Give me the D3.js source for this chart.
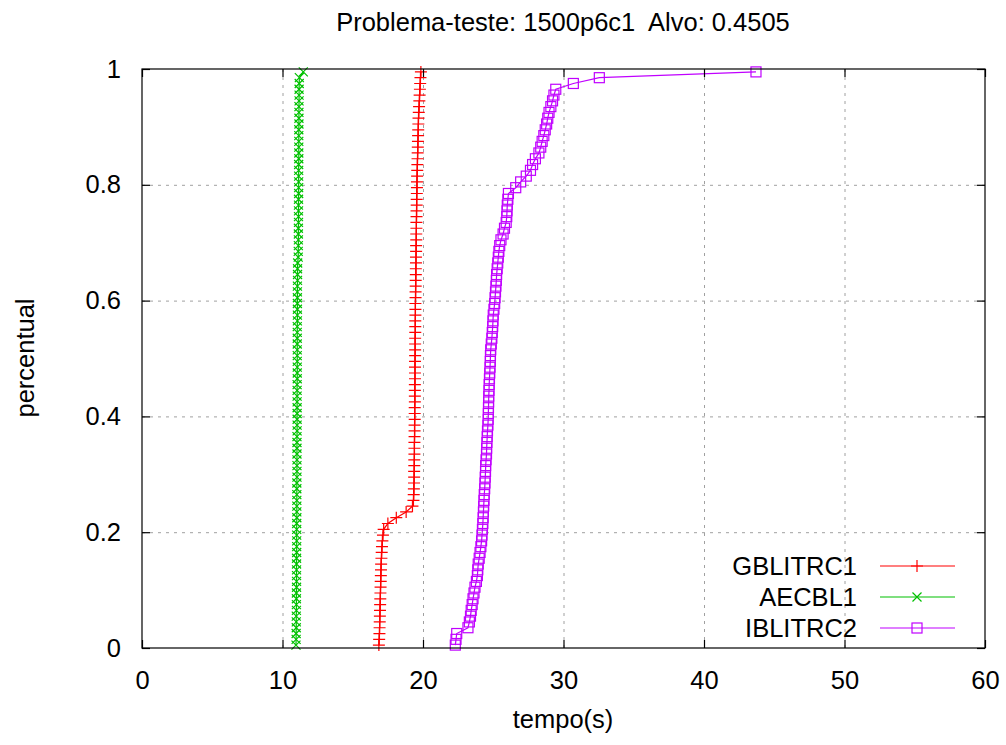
<!DOCTYPE html>
<html>
<head>
<meta charset="utf-8">
<script src="https://cdn.jsdelivr.net/npm/d3@7"></script>
<style>
  body { margin: 0; background: #fff; }
  svg text { font-family: "Liberation Sans", Arial, sans-serif; fill: #000; white-space: pre; }
</style>
</head>
<body>
<script>
(function() {

  // tempo (s) of each run, sorted; 100 runs per algorithm
  let gblitrc1 = [16.86,16.88,16.9,16.91,16.92,16.93,16.94,16.95,16.96,16.97,
    16.98,16.99,17.0,17.01,17.02,17.04,17.06,17.08,17.11,17.15,
    17.2,17.5,18.1,18.8,19.25,19.32,19.34,19.35,19.36,19.37,
    19.37,19.38,19.38,19.39,19.39,19.39,19.4,19.4,19.4,19.41,
    19.41,19.41,19.42,19.42,19.42,19.42,19.43,19.43,19.43,19.43,
    19.44,19.44,19.44,19.44,19.45,19.45,19.45,19.46,19.46,19.46,
    19.47,19.47,19.48,19.48,19.49,19.49,19.5,19.5,19.51,19.51,
    19.52,19.52,19.53,19.53,19.54,19.54,19.55,19.55,19.56,19.57,
    19.57,19.58,19.59,19.6,19.61,19.62,19.63,19.64,19.65,19.66,
    19.67,19.68,19.7,19.72,19.74,19.76,19.78,19.8,19.82,19.85];

  let aecbl1 = [10.96,10.97,10.97,10.98,10.98,10.98,10.99,10.99,10.99,10.99,
    11.0,11.0,11.0,11.0,11.0,11.0,11.01,11.01,11.01,11.01,
    11.01,11.01,11.02,11.02,11.02,11.02,11.02,11.02,11.02,11.03,
    11.03,11.03,11.03,11.03,11.03,11.03,11.03,11.04,11.04,11.04,
    11.04,11.04,11.04,11.04,11.04,11.04,11.05,11.05,11.05,11.05,
    11.05,11.05,11.05,11.05,11.05,11.05,11.06,11.06,11.06,11.06,
    11.06,11.06,11.06,11.07,11.07,11.07,11.08,11.12,11.12,11.13,
    11.13,11.13,11.13,11.14,11.14,11.14,11.14,11.14,11.15,11.15,
    11.15,11.15,11.15,11.15,11.16,11.16,11.16,11.16,11.16,11.16,
    11.17,11.17,11.17,11.17,11.18,11.18,11.18,11.19,11.2,11.48];

  let iblitrc2 = [22.3,22.35,22.4,23.2,23.3,23.38,23.43,23.5,23.56,23.63,
    23.7,23.8,23.87,23.9,23.93,24.0,24.06,24.12,24.17,24.2,
    24.23,24.26,24.28,24.3,24.32,24.34,24.36,24.39,24.41,24.43,
    24.45,24.46,24.49,24.52,24.53,24.55,24.57,24.59,24.62,24.64,
    24.65,24.66,24.67,24.68,24.7,24.71,24.73,24.75,24.77,24.79,
    24.8,24.82,24.86,24.9,24.93,24.96,24.98,25.0,25.05,25.1,
    25.13,25.16,25.19,25.22,25.24,25.28,25.32,25.36,25.4,25.46,
    25.55,25.7,25.8,25.92,25.96,25.98,26.0,26.04,26.08,26.6,
    26.95,27.35,27.65,27.8,28.0,28.25,28.38,28.48,28.6,28.7,
    28.8,28.88,28.97,29.1,29.22,29.32,29.45,30.7,32.55,43.7];

  let seriesNames = ["GBLITRC1", "AECBL1", "IBLITRC2"];
  let xTicks = [0, 10, 20, 30, 40, 50, 60];
  let yTicks = [0, 0.2, 0.4, 0.6, 0.8, 1];
  let yTickLabels = ["0", "0.2", "0.4", "0.6", "0.8", "1"];

  let titleText = "Problema-teste: 1500p6c1  Alvo: 0.4505";

  let colors = ["#ff0000", "#00c000", "#c000ff"];
  let symbols = ["plus", "cross", "square"];
  let fontSize = "25.5px";

  let svg = d3.select("body").append("svg")
    .attr("width", 1006)
    .attr("height", 745);

  let left = 142, right = 985, top = 69, bottom = 648;

  let xScale = d3.scaleLinear().domain([0, 60]).range([left, right]);
  let yScale = d3.scaleLinear().domain([0, 1]).range([bottom, top]);

  // dotted grid (inner ticks only)
  let gridStyle = (g) => {
    g.select(".domain").remove();
    g.selectAll(".tick text").remove();
    g.selectAll(".tick line")
      .attr("stroke", "#a0a0a0")
      .attr("stroke-width", 1)
      .attr("stroke-dasharray", "3,5");
  };
  svg.append("g")
    .attr("transform", "translate(0," + bottom + ")")
    .call(d3.axisBottom(xScale).tickValues(xTicks.slice(1, -1)).tickSize(-(bottom - top)))
    .call(gridStyle);
  svg.append("g")
    .attr("transform", "translate(" + left + ",0)")
    .call(d3.axisLeft(yScale).tickValues(yTicks.slice(1, -1)).tickSize(-(right - left)))
    .call(gridStyle);

  // series
  let lineGen = d3.line()
    .x((d) => xScale(d.t))
    .y((d) => yScale(d.p));

  let allSeries = [gblitrc1, aecbl1, iblitrc2].map((vals, s) => {
    let n = vals.length;
    return vals.map((t, i) => ({ t: t, p: (i + 0.5) / n, s: s }));
  });

  function drawSymbol(g, type, color) {
    if (type === "plus") {
      g.append("path").attr("d", "M-6,0H6M0,-6V6");
    } else if (type === "cross") {
      g.append("path").attr("d", "M-4.5,-4.5L4.5,4.5M-4.5,4.5L4.5,-4.5");
    } else {
      g.append("rect").attr("x", -5).attr("y", -5).attr("width", 10).attr("height", 10);
    }
    g.selectAll("path, rect")
      .attr("fill", "none")
      .attr("stroke", color)
      .attr("stroke-width", 1.2);
  }

  let plotG = svg.append("g");
  allSeries.forEach((pts, s) => {
    plotG.append("path")
      .datum(pts)
      .attr("d", lineGen)
      .attr("fill", "none")
      .attr("stroke", colors[s])
      .attr("stroke-width", 1.2);
    plotG.selectAll(".pt" + s)
      .data(pts)
      .enter()
      .append("g")
        .attr("class", "pt" + s)
        .attr("transform", (d) => "translate(" + xScale(d.t) + "," + yScale(d.p) + ")")
        .each(function() { drawSymbol(d3.select(this), symbols[s], colors[s]); });
  });

  // border
  svg.append("rect")
    .attr("x", left).attr("y", top)
    .attr("width", right - left).attr("height", bottom - top)
    .attr("fill", "none")
    .attr("stroke", "#000")
    .attr("stroke-width", 1.2);

  // axes with inward ticks (mirrored on top / right)
  let tickLen = 8;
  let axisStyle = (g) => {
    g.select(".domain").remove();
    g.selectAll(".tick line").attr("stroke", "#000").attr("stroke-width", 1.2);
    g.selectAll(".tick text").style("font-size", fontSize).attr("fill", "#000");
  };
  svg.append("g")
    .attr("transform", "translate(0," + bottom + ")")
    .call(d3.axisBottom(xScale).tickValues(xTicks).tickSize(-tickLen).tickPadding(23))
    .call(axisStyle);
  svg.append("g")
    .attr("transform", "translate(0," + top + ")")
    .call(d3.axisTop(xScale).tickValues(xTicks).tickSize(-tickLen).tickFormat(""))
    .call(axisStyle);
  svg.append("g")
    .attr("transform", "translate(" + left + ",0)")
    .call(d3.axisLeft(yScale).tickValues(yTicks).tickSize(-tickLen).tickPadding(21)
      .tickFormat((d, i) => yTickLabels[i]))
    .call(axisStyle);
  svg.append("g")
    .attr("transform", "translate(" + right + ",0)")
    .call(d3.axisRight(yScale).tickValues(yTicks).tickSize(-tickLen).tickFormat(""))
    .call(axisStyle);

  // legend
  let legend = svg.append("g");
  seriesNames.forEach((name, s) => {
    let ly = 566 + s * 31;
    legend.append("text")
      .attr("x", 857)
      .attr("y", ly)
      .attr("dy", "0.35em")
      .attr("text-anchor", "end")
      .style("font-size", fontSize)
      .text(name);
    legend.append("line")
      .attr("x1", 880).attr("x2", 955)
      .attr("y1", ly).attr("y2", ly)
      .attr("stroke", colors[s])
      .attr("stroke-width", 1.2);
    let m = legend.append("g").attr("transform", "translate(917," + ly + ")");
    drawSymbol(m, symbols[s], colors[s]);
  });

  // labels
  svg.append("text")
    .attr("x", 563)
    .attr("y", 31)
    .attr("text-anchor", "middle")
    .style("font-size", fontSize)
    .text(titleText);

  svg.append("text")
    .attr("x", 563)
    .attr("y", 728)
    .attr("text-anchor", "middle")
    .style("font-size", fontSize)
    .text("tempo(s)");

  svg.append("text")
    .attr("transform", "translate(34,358)rotate(-90)")
    .attr("text-anchor", "middle")
    .style("font-size", fontSize)
    .text("percentual");

})();
</script>
</body>
</html>
